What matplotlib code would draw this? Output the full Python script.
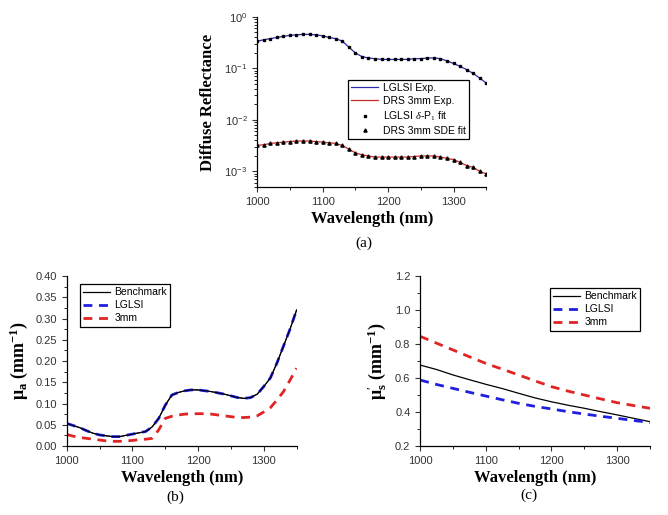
#!/usr/bin/env python3
"""
plot.py - three-panel reflectance / optical-property figure.

  (a) diffuse reflectance vs wavelength (log y), experiment + fits
  (b) absorption coefficient mu_a vs wavelength
  (c) reduced scattering coefficient mu_s' vs wavelength
"""
import matplotlib
matplotlib.use("Agg")
import matplotlib.pyplot as plt
from matplotlib.ticker import MultipleLocator

# ---------------------------------------------------------------- data
# (a) diffuse reflectance, sampled every 10 nm
WL_A = list(range(1000, 1351, 10))
LGLSI_EXP = [0.34, 0.36, 0.38, 0.40, 0.42, 0.44, 0.45, 0.46, 0.46, 0.45,
             0.43, 0.40, 0.38, 0.34, 0.26, 0.20, 0.17, 0.16, 0.155, 0.15,
             0.15, 0.15, 0.15, 0.15, 0.155, 0.155, 0.16, 0.16, 0.155, 0.14,
             0.125, 0.11, 0.095, 0.08, 0.065, 0.052]
DRS_EXP = [0.0032, 0.0033, 0.0035, 0.0036, 0.0037, 0.0038, 0.0039, 0.0039,
           0.0039, 0.0038, 0.0037, 0.0036, 0.0035, 0.0032, 0.0027, 0.0023,
           0.0021, 0.0020, 0.0019, 0.0019, 0.0019, 0.0019, 0.0019, 0.0019,
           0.00195, 0.0020, 0.0020, 0.0020, 0.0019, 0.0018, 0.0017, 0.0015,
           0.0013, 0.0012, 0.0010, 0.0009]

# (b) mu_a, sampled every 10 nm
WL_B = list(range(1000, 1351, 10))
MUA_BENCH = [0.053, 0.048, 0.043, 0.036, 0.030, 0.026, 0.024, 0.022, 0.022,
             0.025, 0.028, 0.031, 0.034, 0.045, 0.065, 0.096, 0.120, 0.126,
             0.130, 0.132, 0.132, 0.130, 0.128, 0.125, 0.122, 0.118, 0.114,
             0.112, 0.114, 0.122, 0.140, 0.160, 0.195, 0.235, 0.275, 0.320]
MUA_LGLSI = MUA_BENCH
MUA_3MM = [0.027, 0.023, 0.020, 0.018, 0.016, 0.014, 0.012, 0.011, 0.011,
           0.012, 0.013, 0.015, 0.016, 0.018, 0.038, 0.065, 0.070, 0.073,
           0.075, 0.076, 0.076, 0.076, 0.075, 0.073, 0.071, 0.069, 0.067,
           0.067, 0.068, 0.071, 0.080, 0.090, 0.108, 0.128, 0.155, 0.183]

# (c) mu_s', sampled every 25 nm
WL_C = list(range(1000, 1351, 25))
MUS_BENCH = [0.676, 0.650, 0.618, 0.590, 0.563, 0.538, 0.510, 0.483, 0.460,
             0.440, 0.422, 0.402, 0.383, 0.363, 0.343]
MUS_LGLSI = [0.588, 0.562, 0.539, 0.516, 0.494, 0.472, 0.451, 0.433, 0.418,
             0.402, 0.388, 0.375, 0.363, 0.350, 0.339]
MUS_3MM = [0.845, 0.805, 0.765, 0.725, 0.686, 0.652, 0.618, 0.583, 0.549,
           0.523, 0.500, 0.477, 0.455, 0.438, 0.422]

# ---------------------------------------------------------------- style
SERIF = "Liberation Serif"
SANS = "Liberation Sans"
BLUE = "#1f1fe0"
RED = "#e02424"
DASH = (3.2, 2.4)

plt.rcParams.update({
    "font.family": SANS,
    "font.size": 8,
    "mathtext.fontset": "custom",
    "mathtext.rm": SERIF,
    "mathtext.it": SERIF + ":italic",
    "mathtext.bf": SERIF + ":bold",
    "xtick.direction": "out",
    "ytick.direction": "out",
    "xtick.major.size": 3.5,
    "ytick.major.size": 3.5,
    "xtick.minor.size": 2,
    "ytick.minor.size": 2,
    "axes.linewidth": 0.9,
})


def style_axes(ax):
    ax.spines["top"].set_visible(False)
    ax.spines["right"].set_visible(False)
    ax.set_xlim(1000, 1350)
    ax.xaxis.set_major_locator(MultipleLocator(100))
    ax.xaxis.set_minor_locator(MultipleLocator(50))
    ax.tick_params(labelsize=8, colors="#333333")
    ax.set_xlabel("Wavelength (nm)", fontfamily=SERIF, fontweight="bold",
                  fontsize=12, labelpad=3)


def legend(ax, x, y):
    leg = ax.legend(loc="upper left", bbox_to_anchor=(x, y),
                    borderaxespad=0, fancybox=False, framealpha=1,
                    edgecolor="black", fontsize=7.5, handlelength=2.6,
                    borderpad=0.3, labelspacing=0.3, handletextpad=0.4)
    leg.get_frame().set_linewidth(0.9)
    return leg


fig = plt.figure(figsize=(6.68, 5.15), dpi=100)

# ---------------------------------------------------------------- (a)
ax = fig.add_axes([0.385, 0.637, 0.343, 0.330])
ax.plot(WL_A, LGLSI_EXP, color="#2a2aa8", lw=0.9, label="LGLSI Exp.")
ax.plot(WL_A, DRS_EXP, color="#cc2a2a", lw=0.9, label="DRS 3mm Exp.")
ax.plot(WL_A, LGLSI_EXP, ls="none", marker="s", ms=1.6, color="black",
        label=r"LGLSI $\delta$-P$_1$ fit")
ax.plot(WL_A, DRS_EXP, ls="none", marker="^", ms=2.3, color="black",
        label="DRS 3mm SDE fit")
ax.set_yscale("log")
ax.set_ylim(5e-4, 1)
style_axes(ax)
ax.set_ylabel("Diffuse Reflectance", fontfamily=SERIF, fontweight="bold",
              fontsize=12, labelpad=6)
legend(ax, 0.397, 0.63)
fig.text(0.545, 0.528, "(a)", fontfamily=SERIF, fontsize=11,
         ha="center", va="center")

# ---------------------------------------------------------------- (b)
ax = fig.add_axes([0.100, 0.134, 0.344, 0.330])
ax.plot(WL_B, MUA_BENCH, color="black", lw=0.9, label="Benchmark")
ax.plot(WL_B, MUA_LGLSI, color=BLUE, lw=2, dashes=DASH, label="LGLSI")
ax.plot(WL_B, MUA_3MM, color=RED, lw=2, dashes=DASH, label="3mm")
ax.plot(WL_B, MUA_BENCH, color="black", lw=0.7)
ax.set_ylim(0, 0.40)
ax.yaxis.set_major_locator(MultipleLocator(0.05))
ax.yaxis.set_minor_locator(MultipleLocator(0.025))
ax.yaxis.set_major_formatter("{x:.2f}")
style_axes(ax)
ax.set_ylabel(r"μ$_\mathbf{a}$ (mm$^{\mathbf{-1}}$)", fontfamily=SERIF,
              fontweight="bold", fontsize=13, labelpad=4)
legend(ax, 0.057, 0.953)
fig.text(0.262, 0.035, "(b)", fontfamily=SERIF, fontsize=11,
         ha="center", va="center")

# ---------------------------------------------------------------- (c)
ax = fig.add_axes([0.629, 0.134, 0.344, 0.330])
ax.plot(WL_C, MUS_BENCH, color="black", lw=0.9, label="Benchmark")
ax.plot(WL_C, MUS_LGLSI, color=BLUE, lw=2, dashes=DASH, label="LGLSI")
ax.plot(WL_C, MUS_3MM, color=RED, lw=2, dashes=DASH, label="3mm")
ax.set_ylim(0.2, 1.2)
ax.yaxis.set_major_locator(MultipleLocator(0.2))
ax.yaxis.set_minor_locator(MultipleLocator(0.1))
ax.yaxis.set_major_formatter("{x:.1f}")
style_axes(ax)
ax.set_ylabel(r"μ$_\mathbf{s}^{\prime}$ (mm$^{\mathbf{-1}}$)",
              fontfamily=SERIF, fontweight="bold", fontsize=13, labelpad=4)
legend(ax, 0.565, 0.929)
fig.text(0.792, 0.039, "(c)", fontfamily=SERIF, fontsize=11,
         ha="center", va="center")

fig.savefig("out.png", dpi=100)
